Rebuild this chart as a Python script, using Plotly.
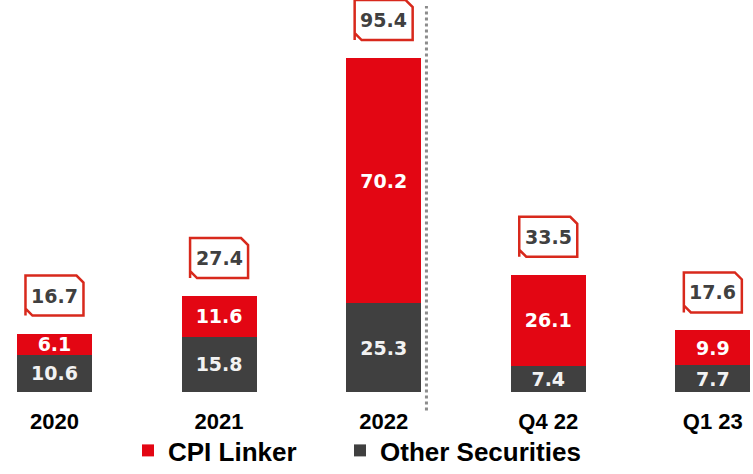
import plotly.graph_objects as go

# Data
categories = ['2020', '2021', '2022', 'Q4 22', 'Q1 23']
other_securities = [10.6, 15.8, 25.3, 7.4, 7.7]
cpi_linker = [6.1, 11.6, 70.2, 26.1, 9.9]
totals = [16.7, 27.4, 95.4, 33.5, 17.6]

RED = '#e30613'
DARK = '#404040'
BOX_RED = '#d8291c'
FONT = 'Arial, Liberation Sans, sans-serif'
NUM_FONT = 'DejaVu Sans, Verdana, sans-serif'

x = list(range(len(categories)))

fig = go.Figure()
fig.add_trace(go.Bar(x=x, y=other_securities, name='Other Securities',
                     marker=dict(color=DARK, line=dict(width=0)),
                     text=[f'{v:.1f}' for v in other_securities],
                     textposition='inside', insidetextanchor='middle',
                     constraintext='none',
                     textfont=dict(color='#f2f2f2', size=19, family=NUM_FONT, weight='bold'),
                     width=0.456, hoverinfo='skip', legend='legend2'))
fig.add_trace(go.Bar(x=x, y=cpi_linker, name='CPI Linker',
                     marker=dict(color=RED, line=dict(width=0)),
                     text=[f'{v:.1f}' for v in cpi_linker],
                     textposition='inside', insidetextanchor='middle',
                     constraintext='none',
                     textfont=dict(color='white', size=19, family=NUM_FONT, weight='bold'),
                     width=0.456, hoverinfo='skip', legend='legend'))

# Total boxes with cut corners, anchored on each bar top
box_path = 'M -29,18 L -29,58 L 22,58 L 29,51 L 29,18 L -22,18 L -29,25 Z'
for xi, t in zip(x, totals):
    fig.add_shape(type='path', xref='x', yref='y',
                  xsizemode='pixel', ysizemode='pixel',
                  xanchor=xi, yanchor=t, path=box_path,
                  line=dict(color=BOX_RED, width=2.5), fillcolor='white')
    fig.add_annotation(x=xi, y=t, text=f'<b>{t:.1f}</b>', showarrow=False,
                       yshift=38, font=dict(color=DARK, size=19, family=NUM_FONT))

# Dotted separator
fig.add_shape(type='line', xref='x', yref='paper', x0=2.26, x1=2.26,
              y0=-0.047, y1=0.985, line=dict(color='#8c8c8c', width=3, dash='dot'))

legend_style = dict(orientation='h', xref='container', yref='container',
                    xanchor='left', y=0, yanchor='bottom',
                    font=dict(size=26, family=FONT, color='black', weight='bold'),
                    itemwidth=30, itemclick=False, bgcolor='rgba(0,0,0,0)')

fig.update_layout(
    width=753, height=474,
    barmode='stack',
    plot_bgcolor='white', paper_bgcolor='white',
    margin=dict(l=0, r=0, t=0, b=82),
    showlegend=True,
    legend=dict(legend_style, x=128 / 753),
    legend2=dict(legend_style, x=340 / 753),
    xaxis=dict(range=[-0.331, 4.244], tickvals=x, ticktext=categories,
               automargin=False,
               showgrid=False, zeroline=False, showline=False,
               ticks='outside', ticklen=10, tickcolor='rgba(0,0,0,0)',
               tickfont=dict(size=22, family=FONT, color='black', weight='bold')),
    yaxis=dict(range=[0, 112], visible=False, automargin=False),
)

fig.write_html('out.html', config={'displayModeBar': False},
               post_script="document.body.style.margin='0';")
